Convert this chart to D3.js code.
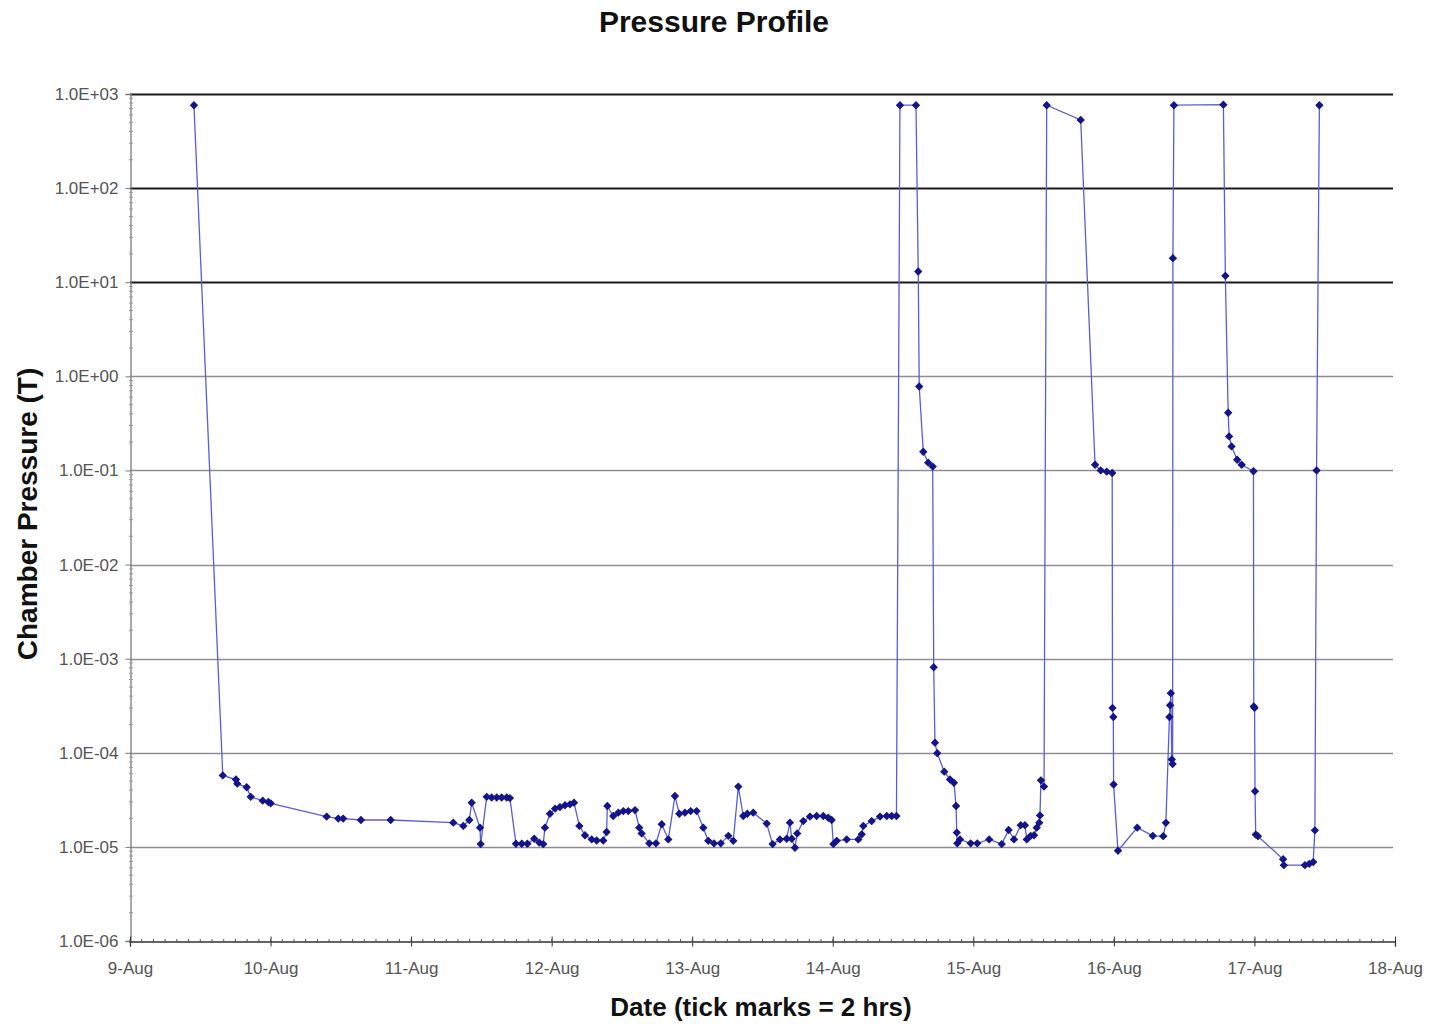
<!DOCTYPE html>
<html>
<head>
<meta charset="utf-8">
<script src="https://cdn.jsdelivr.net/npm/d3@7"></script>
<style>
  html, body { margin: 0; padding: 0; background: #fff; }
  svg { display: block; font-family: "Liberation Sans", Arial, sans-serif; }
</style>
</head>
<body>
<svg id="chart" width="1429" height="1024"></svg>
<script>
// ---- data (day of August, fractional) ----
const dayOfAug = [
  9.455, 9.660, 9.754, 9.763, 9.830, 9.859, 9.944, 9.984, 10.001, 10.399, 10.482, 10.517, 10.643, 10.855,
  11.300, 11.371, 11.414, 11.431, 11.490, 11.495, 11.538, 11.573, 11.609, 11.644, 11.680, 11.703, 11.746,
  11.787, 11.827, 11.876, 11.912, 11.940, 11.952, 11.988, 12.024, 12.059, 12.095, 12.130, 12.159, 12.197,
  12.237, 12.285, 12.320, 12.367, 12.391, 12.396, 12.438, 12.474, 12.510, 12.545, 12.593, 12.623, 12.640,
  12.695, 12.742, 12.783, 12.830, 12.877, 12.908, 12.948, 12.989, 13.031, 13.079, 13.114, 13.155, 13.203,
  13.257, 13.292, 13.328, 13.363, 13.392, 13.434, 13.530, 13.572, 13.624, 13.672, 13.695, 13.708, 13.731,
  13.747, 13.790, 13.838, 13.885, 13.932, 13.968, 13.992, 14.004, 14.028, 14.099, 14.182, 14.206, 14.217,
  14.277, 14.336, 14.384, 14.419, 14.453, 14.478, 14.592, 14.608, 14.615, 14.644, 14.679, 14.711, 14.718,
  14.727, 14.743, 14.793, 14.834, 14.862, 14.877, 14.882, 14.886, 14.905, 14.981, 15.028, 15.113, 15.202,
  15.251, 15.289, 15.337, 15.367, 15.380, 15.408, 15.432, 15.451, 15.469, 15.474, 15.481, 15.503, 15.522,
  15.764, 15.866, 15.906, 15.949, 15.988, 15.990, 15.996, 15.998, 16.029, 16.166, 16.277, 16.351, 16.370,
  16.395, 16.400, 16.405, 16.412, 16.418, 16.420, 16.427, 16.779, 16.793, 16.813, 16.820, 16.837, 16.877,
  16.909, 16.993, 16.995, 17.001, 17.004, 17.009, 17.025, 17.204, 17.209, 17.359, 17.390, 17.418, 17.430,
  17.442, 17.462
];
// ---- chamber pressure (Torr) ----
const pressure = [
  760, 5.75e-5, 5.2e-5, 4.7e-5, 4.3e-5, 3.4e-5, 3.1e-5, 3.0e-5, 2.9e-5, 2.1e-5, 2.0e-5, 2.0e-5, 1.93e-5, 1.93e-5,
  1.81e-5, 1.67e-5, 1.93e-5, 2.95e-5, 1.6e-5, 1.07e-5, 3.4e-5, 3.35e-5, 3.35e-5, 3.35e-5, 3.35e-5, 3.3e-5, 1.08e-5,
  1.08e-5, 1.08e-5, 1.22e-5, 1.11e-5, 1.07e-5, 1.6e-5, 2.25e-5, 2.55e-5, 2.65e-5, 2.77e-5, 2.83e-5, 2.95e-5, 1.67e-5,
  1.33e-5, 1.2e-5, 1.17e-5, 1.17e-5, 1.44e-5, 2.72e-5, 2.13e-5, 2.31e-5, 2.4e-5, 2.4e-5, 2.46e-5, 1.6e-5, 1.39e-5,
  1.09e-5, 1.09e-5, 1.74e-5, 1.2e-5, 3.47e-5, 2.25e-5, 2.31e-5, 2.4e-5, 2.4e-5, 1.6e-5, 1.16e-5, 1.09e-5, 1.09e-5,
  1.31e-5, 1.16e-5, 4.37e-5, 2.13e-5, 2.25e-5, 2.31e-5, 1.77e-5, 1.07e-5, 1.2e-5, 1.22e-5, 1.81e-5, 1.22e-5, 9.8e-6,
  1.39e-5, 1.88e-5, 2.1e-5, 2.13e-5, 2.13e-5, 2.04e-5, 1.93e-5, 1.07e-5, 1.16e-5, 1.2e-5, 1.2e-5, 1.36e-5, 1.67e-5,
  1.88e-5, 2.1e-5, 2.13e-5, 2.13e-5, 2.13e-5, 760, 760, 13, 0.78, 0.158, 0.121, 0.11, 8.1e-4,
  1.28e-4, 9.9e-5, 6.3e-5, 5.2e-5, 4.8e-5, 2.72e-5, 1.42e-5, 1.09e-5, 1.2e-5, 1.09e-5, 1.09e-5, 1.2e-5, 1.07e-5,
  1.51e-5, 1.2e-5, 1.7e-5, 1.7e-5, 1.2e-5, 1.31e-5, 1.33e-5, 1.6e-5, 1.81e-5, 2.16e-5, 5.1e-5, 4.37e-5, 760,
  530, 0.115, 0.1, 0.097, 0.094, 3.0e-4, 2.4e-4, 4.6e-5, 9.1e-6, 1.6e-5, 1.31e-5, 1.3e-5, 1.8e-5,
  2.4e-4, 3.2e-4, 4.3e-4, 8.5e-5, 7.6e-5, 18, 760, 770, 11.7, 0.41, 0.23, 0.18, 0.13,
  0.115, 0.098, 3.1e-4, 3.0e-4, 3.9e-5, 1.35e-5, 1.3e-5, 7.4e-6, 6.4e-6, 6.4e-6, 6.6e-6, 6.9e-6, 1.5e-5,
  0.1, 760
];
// ---- axis tick values / labels ----
const yTickValues = [1e3, 1e2, 1e1, 1e0, 1e-1, 1e-2, 1e-3, 1e-4, 1e-5, 1e-6];
const yTickLabels = ["1.0E+03", "1.0E+02", "1.0E+01", "1.0E+00", "1.0E-01", "1.0E-02", "1.0E-03", "1.0E-04", "1.0E-05", "1.0E-06"];
const darkGridValues = [1e3, 1e2, 1e1];
const xStartDay = 9, xEndDay = 18;
const titleText = "Pressure Profile";
const yTitleText = "Chamber Pressure (T)";
const xTitleText = "Date (tick marks = 2 hrs)";

// ---- helpers ----
const base = Date.UTC(2003, 7, 1);
const toDate = d => new Date(base + (d - 1) * 864e5);

const svg = d3.select("#chart");
const W = 1429, H = 1024;
const m = { left: 130, right: 1395, top: 94, bottom: 941 };

svg.append("rect").attr("width", W).attr("height", H).attr("fill", "#fff");

const x = d3.scaleUtc().domain([toDate(xStartDay), toDate(xEndDay)]).range([m.left, m.right]);
const y = d3.scaleLog().domain([1e-6, 1e3]).range([m.bottom, m.top]);

// gridlines
const grid = svg.append("g");
yTickValues.filter(v => v > 1e-6).forEach(v => {
  const dark = darkGridValues.includes(v);
  grid.append("line")
    .attr("x1", m.left).attr("x2", m.right - 2)
    .attr("y1", Math.round(y(v)) + 0.5).attr("y2", Math.round(y(v)) + 0.5)
    .attr("stroke", dark ? "#1a1a1a" : "#8f8f8f")
    .attr("stroke-width", dark ? 2 : 1.5);
});

// y axis
const yAxis = d3.axisLeft(y)
  .tickValues(yTickValues)
  .tickFormat((d, i) => yTickLabels[i])
  .tickSize(5).tickPadding(7);
const gy = svg.append("g").attr("transform", `translate(${m.left + 0.5},0)`).call(yAxis);
gy.select(".domain").attr("stroke", "#7a7a7a").attr("stroke-width", 1.3);
gy.selectAll(".tick line").attr("stroke", "#7a7a7a");
gy.selectAll(".tick text").attr("font-size", 17).attr("fill", "#555")
  .attr("font-family", "'Liberation Sans', Arial, sans-serif");
// minor y ticks
const minorY = [];
for (let e = -6; e < 3; e++) for (let k = 2; k <= 9; k++) minorY.push(k * Math.pow(10, e));
svg.append("g").selectAll("line").data(minorY).join("line")
  .attr("x1", m.left - 1).attr("x2", m.left + 3)
  .attr("y1", d => y(d)).attr("y2", d => y(d))
  .attr("stroke", "#9a9a9a").attr("stroke-width", 1);

// x axis
const xAxis = d3.axisBottom(x)
  .ticks(d3.utcDay.every(1))
  .tickFormat(d3.utcFormat("%-d-%b"))
  .tickSize(5).tickPadding(15);
const gx = svg.append("g").attr("transform", `translate(0,${m.bottom + 0.5})`).call(xAxis);
gx.select(".domain").attr("stroke", "#333").attr("stroke-width", 1.3);
gx.selectAll(".tick line").attr("stroke", "#333").attr("y1", -5);
gx.selectAll(".tick text").attr("font-size", 17).attr("fill", "#555")
  .attr("font-family", "'Liberation Sans', Arial, sans-serif");
// minor x ticks every 2 hours
const minorX = d3.utcHour.every(2).range(toDate(xStartDay), toDate(xEndDay));
svg.append("g").selectAll("line").data(minorX).join("line")
  .attr("x1", d => x(d)).attr("x2", d => x(d))
  .attr("y1", m.bottom - 2).attr("y2", m.bottom + 2)
  .attr("stroke", "#555").attr("stroke-width", 1);

// data line
const pts = dayOfAug.map((d, i) => ({ t: toDate(d), p: pressure[i] }));
const line = d3.line().x(d => x(d.t)).y(d => y(d.p));
svg.append("path").datum(pts)
  .attr("d", line)
  .attr("fill", "none")
  .attr("stroke", "#5a5ed4")
  .attr("stroke-width", 1.3);

// markers (diamonds)
const diamond = d3.symbol().type(d3.symbolSquare).size(24);
svg.append("g").selectAll("path").data(pts).join("path")
  .attr("d", diamond)
  .attr("transform", d => `translate(${x(d.t)},${y(d.p)}) rotate(45)`)
  .attr("fill", "#141488")
  .attr("stroke", "#141488")
  .attr("stroke-width", 1);

// titles
svg.append("text").attr("x", 714).attr("y", 32).attr("text-anchor", "middle")
  .attr("font-size", 30).attr("font-weight", "bold").attr("fill", "#111").text(titleText);
svg.append("text").attr("transform", "translate(37,514) rotate(-90)").attr("text-anchor", "middle")
  .attr("font-size", 28).attr("font-weight", "bold").attr("fill", "#111").text(yTitleText);
svg.append("text").attr("x", 761).attr("y", 1016).attr("text-anchor", "middle")
  .attr("font-size", 26).attr("font-weight", "bold").attr("fill", "#111").text(xTitleText);
</script>
</body>
</html>
